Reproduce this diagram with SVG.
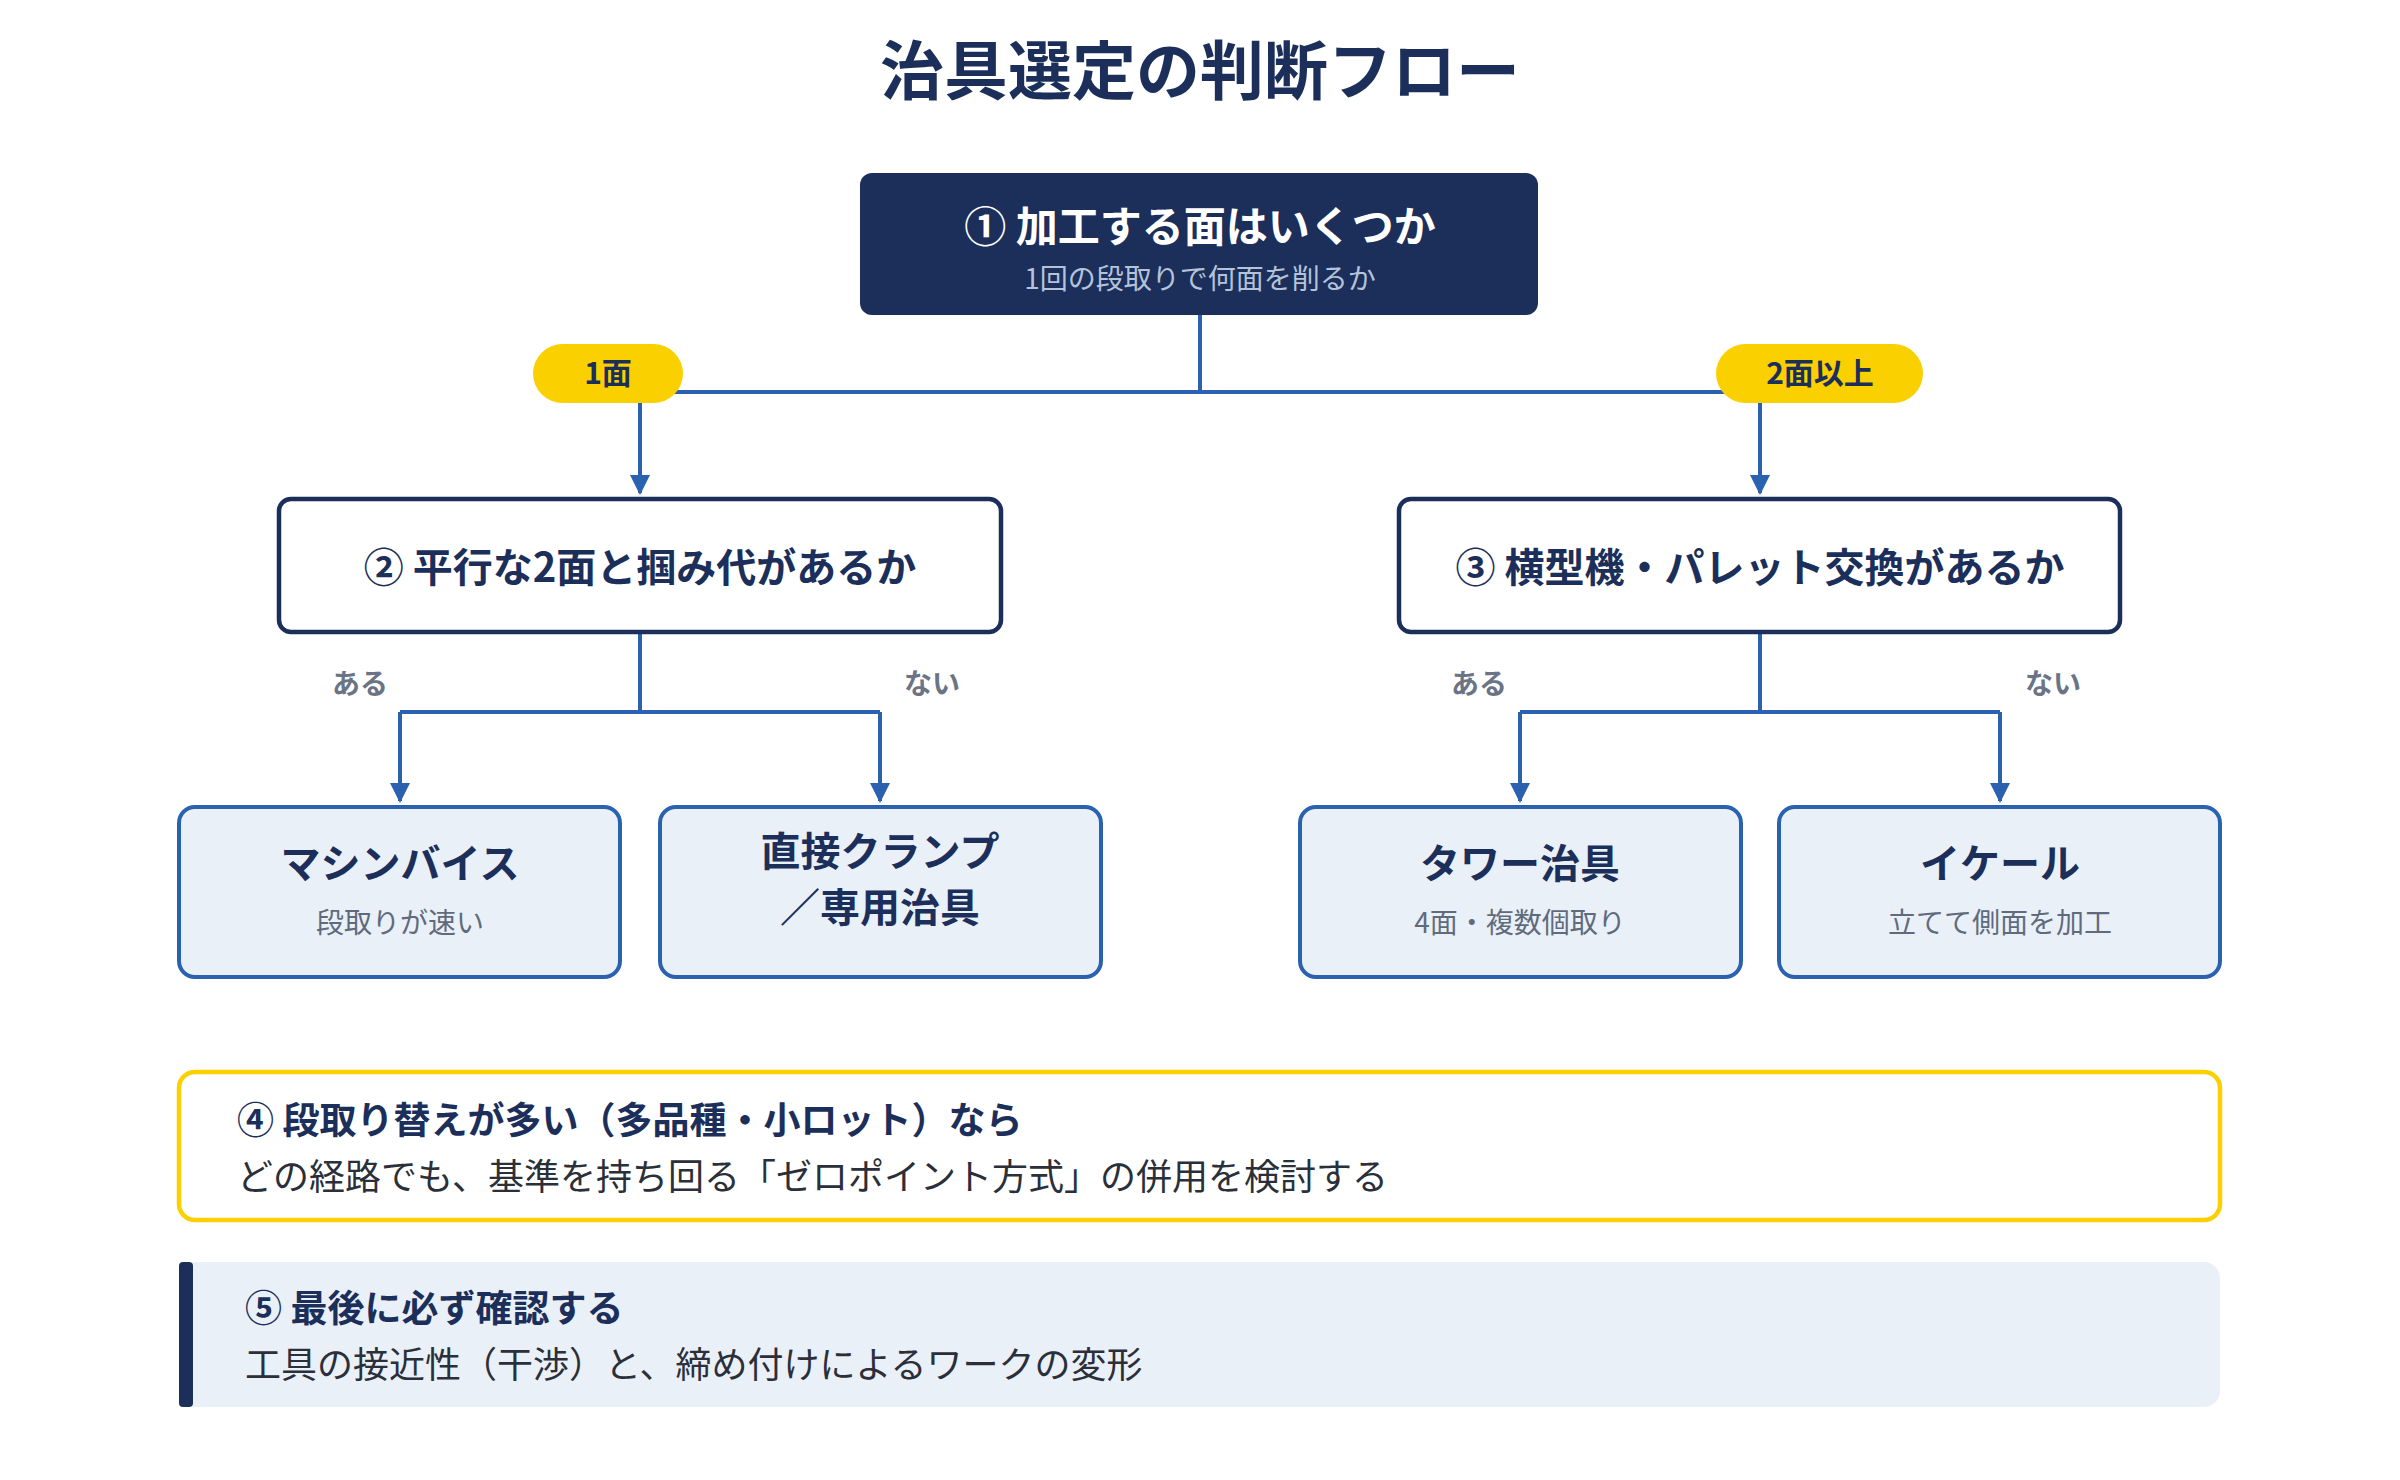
<svg xmlns="http://www.w3.org/2000/svg" width="2400" height="1480" viewBox="0 0 2400 1480">
<defs>
<marker id="ah" viewBox="0 0 10 10" refX="9" refY="5" markerWidth="5" markerHeight="5" orient="auto"><path d="M0,0 L10,5 L0,10 z" fill="#2a62b0"/></marker>
<style>
text{font-family:"Noto Sans CJK JP","Noto Sans",sans-serif;text-anchor:middle}
.b{font-weight:700;fill:#1b2f5a}
.s{fill:#5f6b7d}
.c{fill:none;stroke:#2a62b0;stroke-width:4}
.leaf{fill:#eaf0f8;stroke:#2a62b0;stroke-width:4}
.q{fill:#fff;stroke:#1b2f5a;stroke-width:4.5}
.pill{fill:#fbd000}
.lb{font-size:28px;font-weight:700;fill:#6a7485}
</style>
</defs>
<rect width="2400" height="1480" fill="#fff"/>
<text x="1200" y="94" class="b" font-size="64">治具選定の判断フロー</text>
<g id="connectors">
<path class="c" d="M1200,315 V392 M640,392 H1760"/>
<path class="c" d="M640,392 V493" marker-end="url(#ah)"/>
<path class="c" d="M1760,392 V493" marker-end="url(#ah)"/>
<path class="c" d="M640,632 V712 M400,712 H880"/>
<path class="c" d="M400,712 V801" marker-end="url(#ah)"/>
<path class="c" d="M880,712 V801" marker-end="url(#ah)"/>
<path class="c" d="M1760,632 V712 M1520,712 H2000"/>
<path class="c" d="M1520,712 V801" marker-end="url(#ah)"/>
<path class="c" d="M2000,712 V801" marker-end="url(#ah)"/>
<text x="360" y="694" class="lb">ある</text>
<text x="932" y="694" class="lb">ない</text>
<text x="1479" y="694" class="lb">ある</text>
<text x="2053" y="694" class="lb">ない</text>
</g>
<g id="pill1"><rect x="533" y="344" width="150" height="59" rx="29.5" class="pill"/><text x="608" y="384" class="b" font-size="30">1面</text></g>
<g id="pill2"><rect x="1716" y="344" width="207" height="59" rx="29.5" class="pill"/><text x="1820" y="384" class="b" font-size="30">2面以上</text></g>
<g id="n1"><rect x="860" y="173" width="678" height="142" rx="12" fill="#1b2f5a"/>
<text x="1200" y="242" font-size="42" font-weight="700" fill="#fff">① 加工する面はいくつか</text>
<text x="1200" y="289" font-size="28" fill="#b5c3da">1回の段取りで何面を削るか</text></g>
<g id="n2"><rect x="279" y="499" width="722" height="133" rx="12" class="q"/><text x="640" y="582" class="b" font-size="40">② 平行な2面と掴み代があるか</text></g>
<g id="n3"><rect x="1399" y="499" width="721" height="133" rx="12" class="q"/><text x="1760" y="582" class="b" font-size="40">③ 横型機・パレット交換があるか</text></g>
<g id="leaf1"><rect x="179" y="807" width="441" height="170" rx="16" class="leaf"/><text x="400" y="878" class="b" font-size="40">マシンバイス</text><text x="400" y="933" class="s" font-size="28">段取りが速い</text></g>
<g id="leaf2"><rect x="660" y="807" width="441" height="170" rx="16" class="leaf"/><text x="880" y="866" class="b" font-size="40">直接クランプ</text><text x="880" y="922" class="b" font-size="40">／専用治具</text></g>
<g id="leaf3"><rect x="1300" y="807" width="441" height="170" rx="16" class="leaf"/><text x="1520" y="878" class="b" font-size="40">タワー治具</text><text x="1520" y="933" class="s" font-size="28">4面・複数個取り</text></g>
<g id="leaf4"><rect x="1779" y="807" width="441" height="170" rx="16" class="leaf"/><text x="2000" y="878" class="b" font-size="40">イケール</text><text x="2000" y="933" class="s" font-size="28">立てて側面を加工</text></g>
<g id="n4"><rect x="179" y="1072" width="2041" height="148" rx="16" fill="#fff" stroke="#fbd000" stroke-width="4.5"/>
<text x="237" y="1134" class="b" font-size="37" style="text-anchor:start">④ 段取り替えが多い（多品種・小ロット）なら</text>
<text x="237" y="1190" font-size="36" fill="#2a2f3a" style="text-anchor:start">どの経路でも、基準を持ち回る「ゼロポイント方式」の併用を検討する</text></g>
<g id="n5"><rect x="179" y="1262" width="2041" height="145" rx="16" fill="#eaf0f8"/><rect x="179" y="1262" width="14" height="145" rx="4" fill="#1b2f5a"/>
<text x="245" y="1322" class="b" font-size="37" style="text-anchor:start">⑤ 最後に必ず確認する</text>
<text x="245" y="1378" font-size="36" fill="#2a2f3a" style="text-anchor:start">工具の接近性（干渉）と、締め付けによるワークの変形</text></g>
</svg>
